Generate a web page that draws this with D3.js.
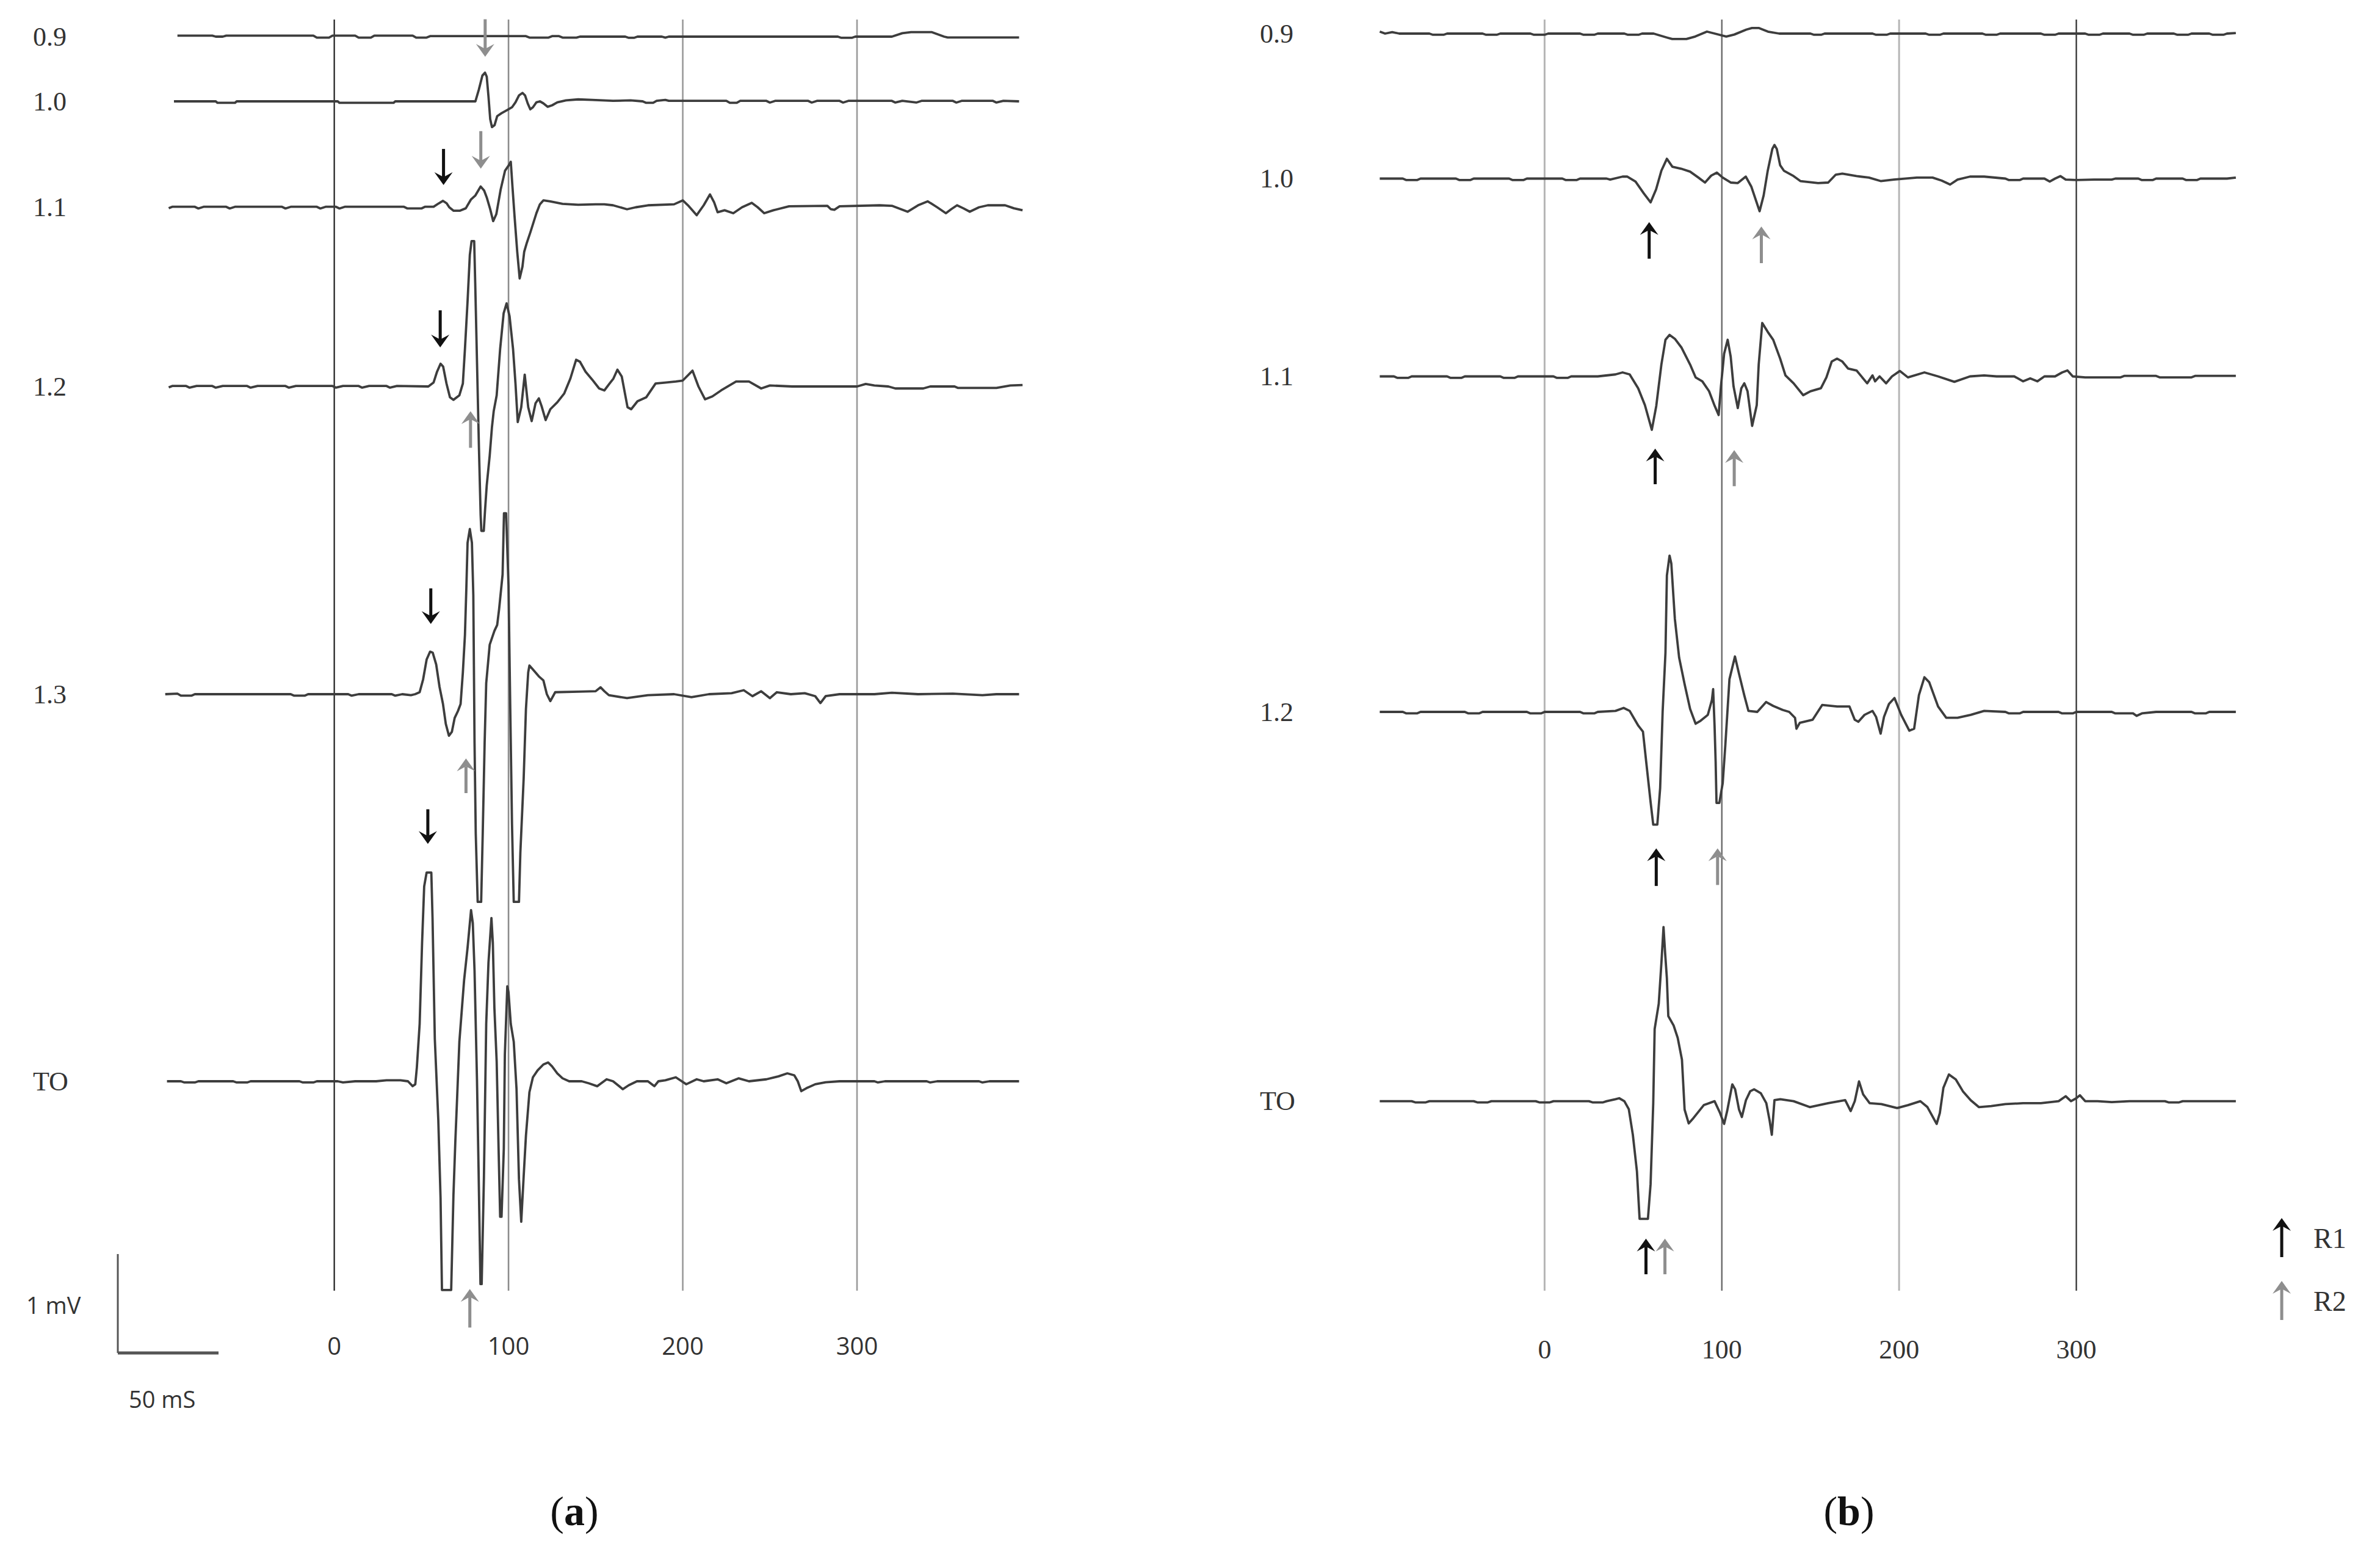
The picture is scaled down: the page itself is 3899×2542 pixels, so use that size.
<!DOCTYPE html>
<html><head><meta charset="utf-8">
<script src="https://cdn.jsdelivr.net/npm/d3@7"></script>
<style>html,body{margin:0;padding:0;background:#fff}</style>
</head><body><svg id="chart"></svg>
<script>
// ---------------- DATA ----------------
const timeTicks = [0, 100, 200, 300];
const traceNamesA = ["0.9", "1.0", "1.1", "1.2", "1.3", "TO"];
const traceNamesB = ["0.9", "1.0", "1.1", "1.2", "TO"];

// panel (a) traces: [time ms, amplitude mV]
const a09 = [[-90,0.01],[-70,0.01],[-68,0],[-64,0],[-62,0.01],[-12,0.01],[-10,-0.01],[-3,-0.01],[-1,0.01],[12,0.01],[14,-0.01],[21,-0.01],[23,0.01],[45,0.01],[47,-0.01],[53,-0.01],[55,0.005],[110,0.005],[112,-0.01],[123,-0.01],[125,0.005],[129,0.005],[131,-0.01],[139,-0.01],[141,0],[167,0],[169,-0.012],[172,-0.012],[174,0],[188,0],[190,-0.01],[192,0],[289,0],[291,-0.012],[297,-0.012],[299,0],[320,0],[326,0.035],[331,0.045],[343,0.045],[350,0.0],[352,-0.008],[393,-0.008]];
const a10 = [[-92,0],[-68,0],[-67,-0.015],[-57,-0.015],[-56,0],[2,0],[3,-0.015],[34,-0.015],[35,0],[81,0],[83,0.12],[85,0.26],[86.5,0.29],[87.5,0.25],[88.5,0.05],[89.5,-0.18],[90.5,-0.26],[92,-0.24],[93.5,-0.15],[96,-0.12],[99,-0.09],[102,-0.06],[104,-0.01],[106,0.06],[108,0.085],[109.5,0.06],[111,-0.02],[112.5,-0.08],[114,-0.06],[116,-0.01],[118,0],[120,-0.02],[122.5,-0.055],[125,-0.04],[128,-0.01],[133,0.01],[140,0.02],[148,0.015],[160,0.005],[170,0.01],[177,0],[179,-0.015],[183,-0.015],[185,0.005],[190,0.015],[192,0.005],[225,0.005],[227,-0.015],[231,-0.015],[233,0.005],[248,0.005],[250,-0.012],[253,0.005],[272,0.005],[274,-0.012],[277,0.005],[290,0.005],[292,-0.012],[295,0.005],[320,0.005],[322,-0.012],[326,0.005],[334,-0.012],[337,0.005],[355,0.005],[357,-0.012],[360,0.005],[378,0.005],[380,-0.012],[384,0.005],[393,0]];
const a11 = [[-95,-0.01],[-93,0.005],[-80,0.005],[-78,-0.012],[-75,0.005],[-62,0.005],[-60,-0.012],[-57,0.005],[-30,0.005],[-28,-0.012],[-25,0.005],[-10,0.005],[-8,-0.012],[-5,0.005],[1,0.005],[3,-0.012],[6,0.005],[40,0.005],[42,-0.012],[50,-0.012],[52,0.005],[57,0.005],[60,0.04],[62.4,0.065],[64.5,0.04],[66,0.0],[68.5,-0.035],[72,-0.035],[75.5,-0.01],[78.5,0.08],[81,0.12],[84,0.21],[86,0.17],[87.5,0.1],[89.5,-0.02],[91.2,-0.14],[93,-0.07],[95.5,0.18],[98,0.37],[100,0.42],[101.3,0.46],[102.3,0.2],[103.5,-0.1],[105,-0.45],[106.4,-0.72],[108,-0.6],[109,-0.45],[110.5,-0.36],[112.6,-0.25],[116,-0.06],[118,0.03],[120,0.07],[124,0.06],[131,0.035],[140,0.025],[150,0.03],[155,0.03],[160,0.02],[168,-0.02],[173,0.0],[180,0.02],[195,0.03],[200,0.07],[203,0.02],[208,-0.08],[212,0.02],[215.6,0.13],[218,0.05],[220,-0.05],[224,-0.03],[229,-0.06],[234,0.0],[239.6,0.045],[243,0.0],[246.7,-0.06],[252,-0.03],[261,0.01],[283,0.015],[285,-0.02],[287,-0.025],[290,0.01],[313,0.02],[320,0.015],[329,-0.045],[335,0.02],[340.6,0.06],[346,0.0],[351,-0.06],[354,-0.02],[357.4,0.02],[361,-0.01],[364.7,-0.045],[370,0.0],[375,0.02],[385,0.02],[390,-0.01],[395,-0.03]];
const a12 = [[-95,-0.01],[-93,0.005],[-85,0.005],[-83,-0.012],[-79,0.005],[-70,0.005],[-68,-0.012],[-64,0.005],[-50,0.005],[-48,-0.012],[-44,0.005],[-28,0.005],[-26,-0.012],[-22,0.005],[-1,0.005],[1,-0.012],[5,0.005],[14,0.005],[16,-0.012],[20,0.005],[30,0.005],[32,-0.012],[36,0.005],[54,0.0],[57,0.04],[59,0.15],[61,0.23],[62.5,0.2],[64.4,0.03],[66.4,-0.11],[68.4,-0.135],[71.8,-0.09],[73.8,0.03],[75,0.38],[76.5,0.86],[77.8,1.33],[78.8,1.47],[80.3,1.47],[80.9,1.04],[81.9,0.26],[83,-0.6],[84,-1.3],[84.4,-1.46],[85.8,-1.46],[86.5,-1.26],[87.5,-1.0],[89.2,-0.7],[90.5,-0.41],[91.5,-0.25],[93.2,-0.09],[95.2,0.38],[97.2,0.74],[98.9,0.84],[100.6,0.71],[102.6,0.38],[104,0.03],[105.3,-0.36],[107.3,-0.21],[109.3,0.12],[111.3,-0.21],[113.3,-0.35],[115.5,-0.17],[117.4,-0.12],[119,-0.2],[121.3,-0.34],[124,-0.23],[128,-0.16],[132,-0.07],[135.5,0.08],[138.8,0.27],[141,0.25],[144.2,0.15],[148,0.07],[152,-0.02],[155,-0.04],[158,0.03],[160.2,0.08],[162.5,0.17],[165,0.1],[168.3,-0.21],[170.4,-0.23],[174,-0.15],[179,-0.11],[184.4,0.03],[190,0.04],[196,0.05],[200,0.06],[205.6,0.16],[209,0.0],[212.8,-0.13],[217,-0.1],[222,-0.04],[230.6,0.05],[238,0.05],[245,-0.02],[250,0.01],[262.8,0.0],[300,0],[305,0.025],[310,0.01],[318,0],[322,-0.02],[338,-0.02],[342,0],[356,0],[358,-0.015],[380,-0.015],[388,0.01],[395,0.015]];
const a13 = [[-97,0],[-90,0.005],[-88,-0.015],[-82,-0.015],[-80,0],[-25,0],[-23,-0.015],[-17,-0.015],[-15,0],[8,0],[10,-0.015],[14,0],[33,0],[35,-0.015],[39,0],[44,-0.01],[46.4,0],[49,0.02],[51,0.15],[53,0.35],[55,0.43],[56.5,0.42],[58.5,0.3],[60.4,0.075],[62.4,-0.1],[64,-0.3],[65.8,-0.42],[67.5,-0.38],[69.1,-0.24],[71,-0.17],[72.5,-0.1],[73.8,0.22],[75,0.6],[75.8,1.07],[76.5,1.53],[77.8,1.67],[79,1.53],[79.8,1.0],[80.5,-0.49],[81.2,-1.41],[82.3,-2.1],[84.3,-2.1],[85.2,-1.41],[86.3,-0.49],[87.2,0.11],[89.2,0.5],[91.9,0.64],[93.5,0.7],[94.6,0.86],[96.6,1.21],[97.4,1.83],[98.6,1.83],[100,1.1],[101,-0.14],[102,-1.31],[103,-2.1],[106,-2.1],[106.8,-1.6],[108.7,-0.85],[110,-0.15],[111.3,0.22],[112,0.29],[114,0.25],[117.4,0.18],[120,0.14],[122,0.0],[124,-0.07],[126.8,0.02],[140,0.025],[150,0.03],[152.8,0.07],[155,0.03],[157.6,-0.01],[168,-0.04],[180,-0.01],[195,0.0],[205,-0.03],[215,0.0],[228,0.01],[235,0.04],[240,-0.02],[245,0.03],[250,-0.04],[254,0.02],[262,0.0],[270,0.01],[276,-0.02],[279,-0.09],[282,-0.02],[290,0.0],[310,0.0],[320,0.015],[335,0.0],[355,0.005],[372,-0.01],[380,0.0],[393,0.0]];
const aTO = [[-96,0],[-88,0],[-86,-0.012],[-80,-0.012],[-78,0],[-58,0],[-56,-0.012],[-50,-0.012],[-48,0],[-20,0],[-18,-0.012],[-12,-0.012],[-10,0],[2,0],[5,-0.012],[12,0],[24,0],[30,0.01],[38,0.01],[42.3,0],[45,-0.05],[46.5,-0.03],[47.4,0.14],[49,0.58],[50.4,1.4],[51.6,1.97],[53,2.11],[55.7,2.11],[56.4,1.65],[57.7,0.43],[59.7,-0.39],[61,-1.18],[61.8,-2.11],[67.1,-2.11],[68.4,-1.15],[69.5,-0.6],[70.5,-0.17],[71.8,0.4],[74.5,1.02],[76.5,1.35],[78.5,1.73],[79.5,1.6],[80.5,1.12],[81.9,0.02],[82.8,-0.87],[83.9,-2.05],[84.6,-2.05],[85.9,-0.96],[87.2,0.58],[88.5,1.2],[90.2,1.65],[91,1.4],[91.9,0.74],[93.2,0.2],[94.3,-0.68],[95.2,-1.37],[96,-1.37],[97.3,-0.68],[97.9,0.27],[99.3,0.96],[100,0.9],[101.3,0.58],[103,0.4],[104.6,-0.08],[106,-0.99],[107.3,-1.42],[108.7,-0.96],[110,-0.55],[112,-0.11],[114,0.04],[116.7,0.11],[120,0.17],[122.7,0.19],[125,0.15],[128,0.08],[131,0.03],[134.8,0],[142,0.0],[146,-0.02],[150.9,-0.05],[156.3,0.02],[160,0.0],[165.6,-0.08],[169,-0.04],[173.7,0],[180,0.0],[183.7,-0.05],[186,0.0],[190,0.01],[196,0.04],[202,-0.03],[208,0.02],[212,0.0],[220,0.02],[225,-0.02],[232,0.03],[238,0.0],[248,0.02],[255,0.05],[260,0.08],[264,0.06],[266,0.0],[268,-0.1],[271,-0.07],[276,-0.03],[282,-0.01],[290,0.0],[310,0.0],[312,-0.012],[316,0.0],[340,0.0],[342,-0.012],[346,0.0],[370,0.0],[372,-0.012],[376,0.0],[393,0.0]];

// panel (b) traces
const b09 = [[-93,0.02],[-90,0.0],[-86,0.015],[-82,0.0],[-65,0.0],[-63,-0.012],[-57,-0.012],[-55,0],[-35,0],[-33,-0.012],[-27,-0.012],[-25,0],[-8,0],[-6,-0.012],[0,-0.012],[2,0],[20,0],[22,-0.012],[28,-0.012],[30,0],[45,0],[47,-0.012],[53,-0.012],[55,0],[61.5,0],[69,-0.04],[72,-0.055],[80,-0.055],[85,-0.03],[91.6,0.02],[96,0.0],[102.5,-0.03],[107,-0.01],[113.8,0.04],[117,0.056],[121,0.056],[126,0.02],[132.4,0.0],[150,0.0],[152,-0.012],[156,-0.012],[158,0],[185,0],[187,-0.012],[193,-0.012],[195,0],[215,0],[217,-0.012],[223,-0.012],[225,0],[247,0],[249,-0.012],[255,-0.012],[257,0],[280,0],[282,-0.012],[288,-0.012],[290,0],[305,0],[307,-0.012],[313,-0.012],[315,0],[330,0],[332,-0.012],[338,-0.012],[340,0],[355,0],[357,-0.012],[363,-0.012],[365,0],[375,0],[377,-0.012],[383,-0.012],[385,0],[390,0.005]];
const b10 = [[-93,0],[-80,0],[-78,-0.015],[-72,-0.015],[-70,0],[-50,0],[-48,-0.015],[-42,-0.015],[-40,0],[-20,0],[-18,-0.015],[-12,-0.015],[-10,0],[10,0],[12,-0.015],[18,-0.015],[20,0],[35,0],[37,-0.01],[44,0.02],[46.7,0.02],[51.3,-0.03],[56,-0.15],[59.8,-0.24],[62.9,-0.11],[65.9,0.08],[69,0.2],[72.1,0.12],[77,0.1],[82.1,0.07],[86.8,0.01],[90.5,-0.04],[94,0.03],[97.2,0.06],[100.5,0.01],[105,-0.04],[109,-0.045],[113.5,0.02],[116.6,-0.08],[121.3,-0.33],[123.6,-0.17],[125.9,0.08],[128.5,0.3],[129.7,0.34],[131,0.3],[132.9,0.135],[135,0.08],[140.5,0.025],[144.3,-0.025],[154.3,-0.045],[160,-0.04],[164.3,0.04],[168,0.05],[176,0.025],[183,0.01],[189.6,-0.025],[197,-0.01],[210,0.01],[218.9,0.01],[224,-0.02],[228.8,-0.06],[233,-0.01],[240,0.02],[248,0.02],[260,0.0],[262,-0.015],[268,-0.015],[270,0],[282,0],[285,-0.03],[288,0.0],[291,0.025],[294,-0.01],[300,-0.015],[310,-0.01],[320,-0.01],[322,0.0],[335,0],[337,-0.015],[343,-0.015],[345,0],[360,0],[362,-0.015],[368,-0.015],[370,0],[385,0],[390,0.01]];
const b11 = [[-93,0],[-85,0],[-83,-0.015],[-77,-0.015],[-75,0],[-55,0],[-53,-0.015],[-47,-0.015],[-45,0],[-25,0],[-23,-0.015],[-17,-0.015],[-15,0],[5,0],[7,-0.015],[13,-0.015],[15,0],[30,0],[40,0.02],[44,0.04],[48,0.02],[52.8,-0.12],[56.6,-0.29],[60.5,-0.54],[63,-0.3],[65.9,0.12],[68.2,0.37],[70.5,0.42],[73.5,0.38],[77.3,0.29],[82.1,0.12],[85.2,-0.01],[89,-0.05],[92.8,-0.15],[96,-0.3],[98.2,-0.39],[99.5,-0.1],[101.3,0.23],[103.3,0.37],[105,0.2],[106.6,-0.1],[109,-0.32],[111,-0.12],[112.7,-0.07],[114.5,-0.15],[117.1,-0.5],[119.7,-0.29],[120.8,0.12],[122.8,0.54],[125.9,0.45],[129,0.37],[132.9,0.18],[135.9,0.01],[140.5,-0.07],[145.9,-0.19],[150,-0.15],[155.9,-0.12],[159,-0.01],[162,0.15],[165,0.18],[168,0.15],[171.2,0.08],[176,0.06],[182,-0.07],[185,0.01],[186.5,-0.05],[189,0.0],[192.7,-0.07],[196,0.0],[200.4,0.055],[205,-0.01],[214.3,0.04],[222,0.0],[231.2,-0.055],[240,0.0],[248,0.01],[255,0.0],[265,0.0],[270,-0.05],[274,-0.02],[278,-0.05],[282,0.0],[288,0.0],[292,0.04],[295,0.06],[298,0.0],[305,-0.01],[325,-0.01],[327,0.005],[345,0.005],[347,-0.01],[365,-0.01],[367,0.005],[390,0.005]];
const b12 = [[-93,0],[-80,0],[-78,-0.015],[-72,-0.015],[-70,0],[-45,0],[-43,-0.015],[-37,-0.015],[-35,0],[-10,0],[-8,-0.015],[-2,-0.015],[0,0],[20,0],[22,-0.015],[28,-0.015],[30,0],[40,0.01],[44.6,0.04],[48,0.01],[52.9,-0.14],[55.5,-0.2],[57.3,-0.5],[59.8,-0.91],[61.3,-1.14],[63.6,-1.14],[65.2,-0.77],[66.6,0.0],[68.2,0.6],[69,1.38],[70.5,1.58],[71.5,1.5],[73.5,0.94],[75.9,0.55],[79,0.28],[82.1,0.03],[85.2,-0.12],[88,-0.09],[92.1,-0.03],[94.4,0.12],[95.1,0.23],[95.9,-0.14],[96.5,-0.5],[97,-0.92],[98.6,-0.92],[100.5,-0.72],[102,-0.33],[104.3,0.33],[107.4,0.56],[109.7,0.385],[112.7,0.165],[115,0.01],[120,0.0],[125,0.1],[129,0.06],[134.3,0.02],[138,0.0],[141.3,-0.06],[142.1,-0.17],[144,-0.11],[151.2,-0.08],[156.6,0.07],[165,0.055],[172,0.055],[175,-0.08],[177,-0.1],[180.5,-0.03],[185,0.01],[187,-0.05],[189.6,-0.22],[191.5,-0.05],[194.3,0.08],[197.4,0.14],[201.2,-0.03],[205.8,-0.19],[208.5,-0.17],[211.2,0.17],[214.3,0.35],[217,0.3],[222,0.055],[226.6,-0.06],[233,-0.06],[240.4,-0.03],[248,0.01],[260,0.0],[262,-0.015],[268,-0.015],[270,0],[290,0],[292,-0.015],[298,-0.015],[300,0],[320,0],[322,-0.015],[332,-0.015],[334,-0.04],[337,-0.015],[345,0],[365,0],[367,-0.015],[373,-0.015],[375,0],[390,0]];
const bTO = [[-93,0],[-75,0],[-73,-0.012],[-67,-0.012],[-65,0],[-40,0],[-38,-0.012],[-32,-0.012],[-30,0],[-5,0],[-3,-0.012],[3,-0.012],[5,0],[25,0],[27,-0.012],[33,-0.012],[35,0],[40,0.02],[42.1,0.03],[45,0.0],[47.5,-0.08],[49.8,-0.34],[52.1,-0.71],[53.6,-1.19],[58.3,-1.19],[59.8,-0.84],[61.3,-0.02],[62.1,0.73],[64.4,0.985],[65.9,1.395],[67.1,1.76],[68,1.5],[69,1.24],[69.8,0.86],[72.8,0.765],[75.1,0.64],[77.5,0.42],[79,-0.085],[81.3,-0.225],[84,-0.17],[89.8,-0.04],[95.9,0.0],[99,-0.12],[101.3,-0.23],[103,-0.1],[105.9,0.17],[107.5,0.12],[109.7,-0.085],[111.3,-0.16],[113.6,0.01],[116,0.1],[118.2,0.12],[122,0.08],[125.1,-0.02],[127,-0.2],[128.2,-0.34],[129.7,0.01],[133,0.02],[140.5,0.0],[149.6,-0.06],[160,-0.02],[169.6,0.01],[172.7,-0.1],[175,0.0],[177.4,0.2],[179.7,0.07],[183.4,-0.02],[190,-0.03],[198.9,-0.07],[205,-0.04],[212,0.0],[216,-0.06],[221.2,-0.23],[223,-0.12],[225,0.135],[228.1,0.27],[232,0.22],[236,0.1],[240.4,0.01],[245,-0.06],[252,-0.05],[260,-0.03],[270,-0.02],[280,-0.02],[290,0.0],[294,0.05],[297,0.0],[300,0.03],[302,0.06],[305,0.0],[312,0.0],[320,-0.01],[330,0.0],[350,0.0],[352,-0.012],[358,-0.012],[360,0],[390,0]];

const tracesA = [a09, a10, a11, a12, a13, aTO];
const tracesB = [b09, b10, b11, b12, bTO];

// response markers: trace, time (ms), tip & tail amplitude (mV), reflex type
const arrowsA = [
  {trace:"1.0", t:86.6, tip:0.45,  tail:0.83,  type:"R2"},
  {trace:"1.1", t:62.7, tip:0.225, tail:0.59,  type:"R1"},
  {trace:"1.1", t:84.1, tip:0.39,  tail:0.77,  type:"R2"},
  {trace:"1.2", t:60.8, tip:0.395, tail:0.77,  type:"R1"},
  {trace:"1.2", t:78.2, tip:-0.25, tail:-0.62, type:"R2"},
  {trace:"1.3", t:55.4, tip:0.71,  tail:1.07,  type:"R1"},
  {trace:"1.3", t:75.6, tip:-0.65, tail:-1.0,  type:"R2"},
  {trace:"TO",  t:53.7, tip:2.4,   tail:2.75,  type:"R1"},
  {trace:"TO",  t:77.8, tip:-2.1,  tail:-2.49, type:"R2"}
];
const arrowsB = [
  {trace:"1.0", t:59.0,  tip:-0.44, tail:-0.81, type:"R1"},
  {trace:"1.0", t:122.3, tip:-0.485,tail:-0.855,type:"R2"},
  {trace:"1.1", t:62.4,  tip:-0.73, tail:-1.09, type:"R1"},
  {trace:"1.1", t:107.0, tip:-0.745,tail:-1.11, type:"R2"},
  {trace:"1.2", t:63.0,  tip:-1.38, tail:-1.76, type:"R1"},
  {trace:"1.2", t:97.6,  tip:-1.38, tail:-1.75, type:"R2"},
  {trace:"TO",  t:57.2,  tip:-1.39, tail:-1.75, type:"R1"},
  {trace:"TO",  t:67.9,  tip:-1.39, tail:-1.75, type:"R2"}
];
const legendItems = ["R1", "R2"];
const scaleBarLabels = ["1 mV", "50 mS"];
const panelCaptions = ["a", "b"];

// ---------------- LAYOUT ----------------
const W = 3899, H = 2542;
const pxPerMv = 162;
const gridTop = 32, gridBottom = 2114;
const panels = [
  {names: traceNamesA, traces: tracesA, arrows: arrowsA, range: [547.6, 1404],
   baselines: [60, 166, 339.5, 633, 1137, 1771], labelX: 54,
   gridColors: ["#1e1e1e", "#8c8c8c", "#9a9a9a", "#9a9a9a"], gridW: [2.2, 2.6, 2.6, 2.6],
   tickFont: "'Open Sans', 'DejaVu Sans', sans-serif", tickSize: 40, tickY: 2203, caption: panelCaptions[0], capX: 941},
  {names: traceNamesB, traces: tracesB, arrows: arrowsB, range: [2530.4, 3401.5],
   baselines: [55, 292.5, 616.5, 1166, 1803.6], labelX: 2064,
   gridColors: ["#b5b5b5", "#6a6a6a", "#b5b5b5", "#2a2a2a"], gridW: [3, 2.4, 3, 2.2],
   tickFont: "'Liberation Serif', 'Times New Roman', serif", tickSize: 44, tickY: 2210, caption: panelCaptions[1], capX: 3029}
];
const typeColor = {R1: "#111111", R2: "#8e8e8e"};
const serif = "'Liberation Serif', 'Times New Roman', serif";

const svg = d3.select("#chart").attr("width", W).attr("height", H)
  .attr("viewBox", `0 0 ${W} ${H}`);
svg.append("rect").attr("width", W).attr("height", H).attr("fill", "#fff");

const amp = d3.scaleLinear().domain([0, 1]).range([0, -pxPerMv]);

function drawArrow(g, x, yTip, yTail, color) {
  const dir = yTail > yTip ? 1 : -1; // +1: arrow points up
  const headL = 21, headHalf = 15, notch = 13;
  g.append("line")
    .attr("x1", x).attr("x2", x)
    .attr("y1", yTail).attr("y2", yTip + dir * notch)
    .attr("stroke", color).attr("stroke-width", 5);
  g.append("path")
    .attr("d", `M${x},${yTip} L${x - headHalf},${yTip + dir * headL} L${x},${yTip + dir * notch} L${x + headHalf},${yTip + dir * headL} Z`)
    .attr("fill", color);
}

panels.forEach(p => {
  const x = d3.scaleLinear().domain([0, 300]).range(p.range);
  const g = svg.append("g");

  g.selectAll("line.grid").data(timeTicks).join("line")
    .attr("class", "grid")
    .attr("x1", d => x(d)).attr("x2", d => x(d))
    .attr("y1", gridTop).attr("y2", gridBottom)
    .attr("stroke", (d, i) => p.gridColors[i])
    .attr("stroke-width", (d, i) => p.gridW[i]);

  g.selectAll("text.tick").data(timeTicks).join("text")
    .attr("class", "tick")
    .attr("x", d => x(d)).attr("y", p.tickY)
    .attr("text-anchor", "middle").attr("dominant-baseline", "central")
    .attr("font-family", p.tickFont).attr("font-size", p.tickSize)
    .attr("fill", "#333").text(d => d);

  const line = d3.line().x(d => x(d[0])).y(d => amp(d[1]));
  p.traces.forEach((tr, i) => {
    const tg = g.append("g").attr("transform", `translate(0,${p.baselines[i]})`);
    tg.append("path").datum(tr)
      .attr("d", line)
      .attr("fill", "none").attr("stroke", "#3d3d3d")
      .attr("stroke-width", 3.8).attr("stroke-linejoin", "round");
    g.append("text")
      .attr("x", p.labelX).attr("y", p.baselines[i])
      .attr("dominant-baseline", "central")
      .attr("font-family", serif).attr("font-size", 44).attr("fill", "#333")
      .text(p.names[i]);
  });

  p.arrows.forEach(a => {
    const idx = p.names.indexOf(a.trace);
    const base = p.baselines[idx];
    drawArrow(g, x(a.t), base + amp(a.tip), base + amp(a.tail), typeColor[a.type]);
  });

  const cap = svg.append("text")
    .attr("x", p.capX).attr("y", 2475)
    .attr("text-anchor", "middle").attr("dominant-baseline", "central")
    .attr("font-family", serif).attr("font-size", 68).attr("fill", "#111");
  cap.append("tspan").text("(");
  cap.append("tspan").attr("font-weight", "bold").text(p.caption);
  cap.append("tspan").text(")");
});

// scale bar (panel a)
const sb = svg.append("g");
const sbX = 193, sbY = 2216, sbLen = 165;
sb.append("line").attr("x1", sbX).attr("x2", sbX).attr("y1", sbY).attr("y2", sbY + amp(1))
  .attr("stroke", "#555").attr("stroke-width", 3);
sb.append("line").attr("x1", sbX).attr("x2", sbX + sbLen).attr("y1", sbY).attr("y2", sbY)
  .attr("stroke", "#555").attr("stroke-width", 5);
sb.append("text").attr("x", 43).attr("y", 2137).attr("dominant-baseline", "central")
  .attr("font-family", "'Open Sans', 'DejaVu Sans', sans-serif").attr("font-size", 38)
  .attr("fill", "#333").text(scaleBarLabels[0]);
sb.append("text").attr("x", 211).attr("y", 2291).attr("dominant-baseline", "central")
  .attr("font-family", "'Open Sans', 'DejaVu Sans', sans-serif").attr("font-size", 38)
  .attr("fill", "#333").text(scaleBarLabels[1]);

// legend (panel b)
const lg = svg.append("g");
const legendY = [2028, 2131];
legendItems.forEach((k, i) => {
  drawArrow(lg, 3738, legendY[i] - 33, legendY[i] + 31, typeColor[k]);
  lg.append("text").attr("x", 3790).attr("y", legendY[i])
    .attr("dominant-baseline", "central")
    .attr("font-family", serif).attr("font-size", 46).attr("fill", "#333").text(k);
});
</script>
</body></html>
